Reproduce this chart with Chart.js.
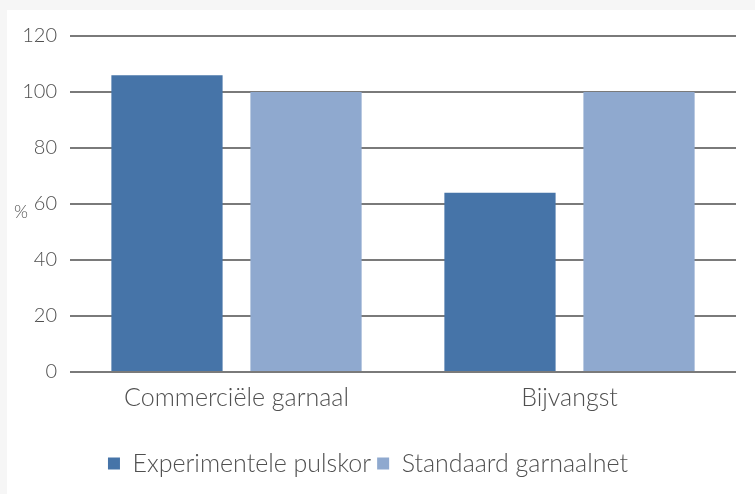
<!DOCTYPE html>
<html>
<head>
  <meta charset="UTF-8">
  <script src="https://cdn.jsdelivr.net/npm/chart.js"></script>
  <style>
    html, body { margin: 0; padding: 0; background: #f6f6f6; }
    .kader { position: absolute; left: 7px; top: 10px; width: 748px; height: 484px; background: #fff; }
    .grafiek { position: absolute; left: 0; top: 0; width: 755px; height: 494px; }
  </style>
  <title>Pulskor</title>
</head>
<body>
  <div class="kader"></div>
  <div class="grafiek"><canvas id="myChart" width="755" height="494"></canvas></div>

<script>
  var categorieen = ["Commerciële garnaal", "Bijvangst"];
  var pulskor = [106, 64];
  var standaard = [100, 100];
  var reeksNamen = ["Experimentele pulskor", "Standaard garnaalnet"];
  var yTicks = [0, 20, 40, 60, 80, 100, 120];

  var lettertype = "Lato";
  var tekstKleur = "#505050";

  // "%" naast de as, niet gedraaid
  const procentTeken = {
    id: 'procentTeken',
    afterDraw(chart) {
      var ctx = chart.ctx;
      var y = chart.scales.y;
      ctx.save();
      ctx.font = "300 18px " + lettertype;
      ctx.fillStyle = tekstKleur;
      ctx.textAlign = "left";
      ctx.textBaseline = "middle";
      ctx.fillText("%", 14, y.getPixelForValue(57));
      ctx.restore();
    }
  };

  const data = {
    labels: categorieen,
    datasets: [{
      label: reeksNamen[0],
      data: pulskor,
      backgroundColor: '#4674a8'
    }, {
      label: reeksNamen[1],
      data: standaard,
      backgroundColor: '#8fa9cf'
    }]
  };

  const config = {
    type: 'bar',
    data: data,
    options: {
      responsive: false,
      animation: false,
      layout: { padding: { top: 36, right: 19, left: 0, bottom: 8 } },
      datasets: { bar: { categoryPercentage: 0.835, barPercentage: 0.8 } },
      plugins: {
        legend: {
          position: 'bottom',
          labels: {
            boxWidth: 12, boxHeight: 12, padding: 6,
            color: tekstKleur,
            font: { family: lettertype, size: 25, weight: '300' }
          }
        },
        tooltip: { enabled: false }
      },
      scales: {
        x: {
          grid: { display: false, drawTicks: false },
          border: { display: false },
          afterFit: function (s) { s.height = 73; },
          ticks: { color: tekstKleur, padding: 11, font: { family: lettertype, size: 25, weight: '300' } }
        },
        y: {
          min: 0, max: 120,
          afterBuildTicks: function (s) { s.ticks = yTicks.map(function (v) { return { value: v }; }); },
          afterFit: function (s) { s.width = 70; },
          border: { display: false },
          grid: { color: '#7a7a7a', lineWidth: 2, drawTicks: false },
          ticks: { color: tekstKleur, padding: 13, font: { family: lettertype, size: 20, weight: '300' } }
        }
      }
    },
    plugins: [procentTeken]
  };

  const myChart = new Chart(document.getElementById('myChart'), config);
</script>
</body>
</html>
